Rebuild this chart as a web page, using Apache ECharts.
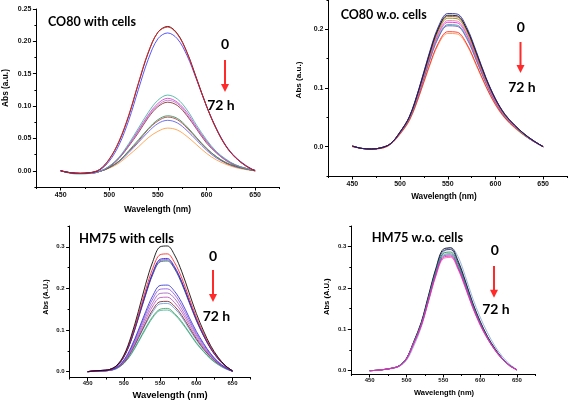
<!DOCTYPE html>
<html><head><meta charset="utf-8">
<script src="https://cdn.jsdelivr.net/npm/echarts@6/dist/echarts.min.js"></script>
<style>html,body{margin:0;padding:0;background:#fff}#c{width:568px;height:400px}</style>
</head><body><div id="c"></div>
<script>
// Wavelength grid (nm)
const wavelength = [450,460,470,480,490,500,510,520,530,540,550,560,570,580,590,600,610,620,630,640,650];
const xMajorTicks = [450,500,550,600,650];
const xMinorTicks = [425,475,525,575,625,675];

// Panel A: CO80 with cells
const co80Cells_black  = [0.000,-0.003,-0.004,-0.003,0.002,0.018,0.045,0.085,0.135,0.182,0.214,0.223,0.212,0.183,0.142,0.100,0.065,0.038,0.020,0.008,0.000];
const co80Cells_red    = [0.000,-0.003,-0.004,-0.003,0.002,0.018,0.046,0.086,0.136,0.183,0.214,0.222,0.211,0.182,0.141,0.100,0.065,0.038,0.020,0.008,0.000];
const co80Cells_blue   = [0.000,-0.003,-0.004,-0.003,0.001,0.015,0.040,0.078,0.126,0.172,0.204,0.213,0.204,0.178,0.140,0.100,0.066,0.039,0.021,0.009,0.000];
const co80Cells_teal   = [0.000,-0.004,-0.005,-0.004,-0.001,0.007,0.021,0.042,0.066,0.090,0.109,0.117,0.111,0.094,0.070,0.048,0.030,0.018,0.009,0.004,0.001];
const co80Cells_mag    = [0.000,-0.003,-0.004,-0.004,-0.001,0.007,0.020,0.040,0.063,0.086,0.104,0.112,0.106,0.090,0.067,0.046,0.029,0.017,0.009,0.004,0.001];
const co80Cells_pink   = [0.000,-0.003,-0.004,-0.004,-0.001,0.007,0.020,0.039,0.061,0.084,0.101,0.109,0.104,0.087,0.065,0.045,0.028,0.016,0.009,0.004,0.001];
const co80Cells_brown  = [0.000,-0.003,-0.004,-0.004,-0.001,0.006,0.019,0.038,0.059,0.082,0.099,0.106,0.101,0.085,0.064,0.043,0.028,0.016,0.008,0.004,0.001];
const co80Cells_green  = [0.000,-0.003,-0.004,-0.003,-0.001,0.005,0.015,0.031,0.048,0.065,0.079,0.085,0.081,0.068,0.051,0.035,0.022,0.013,0.007,0.003,0.000];
const co80Cells_wine   = [0.000,-0.003,-0.004,-0.003,-0.001,0.005,0.015,0.030,0.046,0.064,0.077,0.083,0.079,0.066,0.050,0.034,0.022,0.012,0.007,0.003,0.000];
const co80Cells_blue2  = [0.000,-0.003,-0.004,-0.003,-0.001,0.005,0.014,0.028,0.044,0.060,0.073,0.078,0.074,0.062,0.047,0.032,0.020,0.012,0.006,0.003,0.000];
const co80Cells_orange = [0.000,-0.003,-0.004,-0.003,-0.001,0.004,0.012,0.024,0.037,0.051,0.061,0.066,0.063,0.053,0.040,0.027,0.017,0.010,0.005,0.002,0.000];

// Panel B: CO80 w.o. cells
const co80No_navy   = [0.001,-0.003,-0.004,-0.002,0.005,0.025,0.052,0.100,0.156,0.204,0.227,0.226,0.203,0.162,0.118,0.082,0.055,0.037,0.022,0.010,0.000];
const co80No_black  = [0.001,-0.003,-0.004,-0.002,0.005,0.025,0.052,0.099,0.154,0.201,0.224,0.223,0.200,0.160,0.117,0.081,0.055,0.037,0.022,0.010,0.000];
const co80No_brown  = [0.001,-0.003,-0.004,-0.002,0.005,0.025,0.051,0.098,0.152,0.200,0.222,0.221,0.199,0.158,0.116,0.081,0.054,0.036,0.022,0.010,0.000];
const co80No_olive  = [0.001,-0.003,-0.004,-0.002,0.005,0.024,0.050,0.097,0.150,0.197,0.219,0.218,0.196,0.156,0.114,0.080,0.053,0.036,0.021,0.010,0.000];
const co80No_pink   = [0.001,-0.003,-0.004,-0.002,0.005,0.024,0.050,0.095,0.148,0.193,0.215,0.214,0.192,0.153,0.112,0.078,0.052,0.035,0.021,0.010,0.000];
const co80No_mag    = [0.001,-0.003,-0.004,-0.002,0.005,0.023,0.049,0.094,0.146,0.191,0.212,0.211,0.190,0.151,0.111,0.077,0.052,0.035,0.021,0.009,0.000];
const co80No_teal   = [0.001,-0.003,-0.004,-0.002,0.005,0.023,0.048,0.092,0.143,0.187,0.208,0.207,0.186,0.148,0.109,0.076,0.051,0.034,0.020,0.009,0.000];
const co80No_purple = [0.001,-0.003,-0.004,-0.002,0.005,0.023,0.048,0.091,0.142,0.185,0.206,0.205,0.184,0.147,0.108,0.075,0.050,0.034,0.020,0.009,0.000];
const co80No_red    = [0.000,-0.003,-0.004,-0.003,0.004,0.022,0.046,0.087,0.135,0.176,0.196,0.195,0.175,0.140,0.103,0.072,0.049,0.033,0.020,0.009,0.000];
const co80No_orange = [0.000,-0.003,-0.004,-0.003,0.004,0.021,0.045,0.086,0.133,0.174,0.193,0.192,0.173,0.138,0.102,0.071,0.048,0.032,0.019,0.009,0.000];

// Panel C: HM75 with cells
const hm75Cells_black  = [0.000,0.002,0.003,0.005,0.015,0.040,0.085,0.145,0.210,0.265,0.300,0.302,0.280,0.240,0.190,0.140,0.098,0.062,0.035,0.015,0.002];
const hm75Cells_red    = [0.000,0.002,0.003,0.005,0.014,0.037,0.080,0.136,0.196,0.249,0.281,0.283,0.262,0.225,0.178,0.131,0.092,0.058,0.033,0.014,0.002];
const hm75Cells_blue   = [0.000,0.002,0.003,0.005,0.014,0.036,0.076,0.131,0.188,0.239,0.270,0.272,0.252,0.216,0.171,0.126,0.088,0.056,0.032,0.014,0.002];
const hm75Cells_violet = [0.000,0.002,0.003,0.005,0.014,0.036,0.076,0.130,0.186,0.236,0.267,0.269,0.249,0.214,0.169,0.125,0.087,0.055,0.031,0.014,0.002];
const hm75Cells_dkgrn  = [0.000,0.002,0.003,0.005,0.013,0.035,0.075,0.128,0.184,0.234,0.264,0.266,0.247,0.211,0.167,0.123,0.086,0.055,0.031,0.013,0.002];
const hm75Cells_blue2  = [0.000,0.002,0.002,0.004,0.010,0.028,0.059,0.100,0.144,0.183,0.207,0.208,0.193,0.166,0.131,0.097,0.068,0.043,0.024,0.010,0.001];
const hm75Cells_lilac  = [0.000,0.002,0.002,0.003,0.010,0.026,0.056,0.096,0.138,0.175,0.198,0.199,0.185,0.158,0.125,0.092,0.065,0.041,0.023,0.010,0.001];
const hm75Cells_purple = [0.000,0.001,0.002,0.003,0.010,0.025,0.053,0.091,0.131,0.166,0.188,0.189,0.176,0.150,0.119,0.088,0.061,0.039,0.022,0.010,0.001];
const hm75Cells_mag    = [0.000,0.001,0.002,0.003,0.009,0.024,0.050,0.086,0.124,0.158,0.178,0.179,0.166,0.143,0.113,0.083,0.058,0.037,0.021,0.009,0.001];
const hm75Cells_wine   = [0.000,0.001,0.002,0.003,0.009,0.022,0.048,0.082,0.117,0.149,0.168,0.169,0.157,0.135,0.107,0.079,0.055,0.035,0.020,0.009,0.001];
const hm75Cells_sky    = [0.000,0.001,0.002,0.003,0.008,0.022,0.046,0.079,0.114,0.144,0.163,0.164,0.152,0.131,0.103,0.076,0.053,0.034,0.019,0.008,0.001];
const hm75Cells_green  = [0.000,0.001,0.002,0.003,0.008,0.020,0.043,0.073,0.105,0.133,0.150,0.152,0.140,0.120,0.095,0.070,0.049,0.031,0.018,0.008,0.001];
const hm75Cells_teal   = [0.000,0.001,0.001,0.003,0.007,0.020,0.041,0.071,0.102,0.130,0.147,0.148,0.137,0.117,0.093,0.068,0.048,0.030,0.017,0.007,0.001];

// Panel D: HM75 w.o. cells
const hm75No_steel  = [0.000,0.001,0.003,0.005,0.010,0.025,0.060,0.105,0.170,0.238,0.286,0.298,0.276,0.228,0.175,0.130,0.092,0.060,0.035,0.016,0.003];
const hm75No_black  = [0.000,0.001,0.003,0.006,0.012,0.030,0.071,0.117,0.183,0.248,0.294,0.297,0.266,0.217,0.164,0.120,0.083,0.054,0.030,0.013,0.002];
const hm75No_navy   = [0.000,0.001,0.003,0.006,0.012,0.030,0.070,0.115,0.180,0.245,0.290,0.293,0.262,0.214,0.162,0.118,0.082,0.053,0.030,0.013,0.002];
const hm75No_green  = [0.000,0.001,0.003,0.006,0.012,0.029,0.069,0.113,0.176,0.240,0.284,0.287,0.257,0.210,0.159,0.116,0.080,0.052,0.029,0.013,0.002];
const hm75No_teal   = [0.000,0.001,0.003,0.006,0.012,0.029,0.068,0.111,0.174,0.237,0.280,0.283,0.253,0.207,0.156,0.114,0.079,0.051,0.029,0.013,0.002];
const hm75No_purple = [0.000,0.001,0.003,0.006,0.011,0.029,0.067,0.110,0.172,0.234,0.277,0.280,0.250,0.205,0.155,0.113,0.078,0.051,0.029,0.012,0.002];
const hm75No_mag    = [0.000,0.001,0.003,0.006,0.011,0.028,0.066,0.109,0.170,0.232,0.274,0.277,0.248,0.202,0.153,0.112,0.078,0.050,0.028,0.012,0.002];
const hm75No_pink   = [0.000,0.001,0.003,0.006,0.011,0.028,0.066,0.108,0.168,0.229,0.271,0.274,0.245,0.200,0.152,0.110,0.077,0.050,0.028,0.012,0.002];

const panels = [
  { grid:{left:36.4, top:9, width:243, height:178}, yMin:-0.025, yMax:0.25,
    yMajor:[0,0.05,0.10,0.15,0.20,0.25], yMinor:[-0.025,0.025,0.075,0.125,0.175,0.225], dec:2, fs:7, lm:5,
    curves:[[co80Cells_orange,'#ff9a40'],[co80Cells_blue2,'#5a5ae6'],[co80Cells_wine,'#b03a3a'],[co80Cells_green,'#2f8f5a'],
            [co80Cells_brown,'#8b2a2a'],[co80Cells_pink,'#b878c8'],[co80Cells_mag,'#d040d0'],[co80Cells_teal,'#40b0a0'],
            [co80Cells_blue,'#3a3aff'],[co80Cells_black,'#000000'],[co80Cells_red,'#ff2020']] },
  { grid:{left:328.5, top:0, width:238.5, height:176}, yMin:-0.05, yMax:0.25,
    yMajor:[0,0.1,0.2], yMinor:[-0.05,0.05,0.15,0.25], dec:1, fs:7, lm:5,
    curves:[[co80No_orange,'#ff9040'],[co80No_red,'#ff2020'],[co80No_purple,'#8040c0'],[co80No_teal,'#20a0a0'],
            [co80No_mag,'#e020e0'],[co80No_pink,'#ff69b4'],[co80No_olive,'#808000'],[co80No_brown,'#a0522d'],
            [co80No_black,'#000000'],[co80No_navy,'#20209a']] },
  { grid:{left:69.6, top:226, width:181, height:151.5}, yMin:-0.014, yMax:0.35,
    yMajor:[0,0.1,0.2,0.3], yMinor:[0.05,0.15,0.25,0.35], dec:1, fs:6, lm:3,
    curves:[[hm75Cells_teal,'#50b0a0'],[hm75Cells_green,'#40a060'],[hm75Cells_sky,'#60a0e0'],[hm75Cells_wine,'#802020'],
            [hm75Cells_mag,'#c050c0'],[hm75Cells_purple,'#a060c0'],[hm75Cells_lilac,'#9050e0'],[hm75Cells_blue2,'#3030d0'],
            [hm75Cells_dkgrn,'#006040'],[hm75Cells_violet,'#8a2be2'],[hm75Cells_blue,'#2020c0'],[hm75Cells_red,'#ff2020'],[hm75Cells_black,'#000000']] },
  { grid:{left:351.3, top:226, width:184, height:148}, yMin:-0.008, yMax:0.35,
    yMajor:[0,0.1,0.2,0.3], yMinor:[0.05,0.15,0.25,0.35], dec:1, fs:6, lm:3,
    curves:[[hm75No_steel,'#88a8d8'],[hm75No_black,'#000000'],[hm75No_navy,'#202080'],[hm75No_green,'#208040'],
            [hm75No_teal,'#40a0a0'],[hm75No_purple,'#8040c0'],[hm75No_pink,'#ff60a0'],[hm75No_mag,'#e020c0']] }
];

const FONT = '"Liberation Sans", Arial, sans-serif';
const TFONT = 'Lato, "Open Sans", sans-serif';
const grids=[], xAxes=[], yAxes=[], series=[];
panels.forEach((p,g)=>{
  grids.push(p.grid);
  xAxes.push({type:'value', gridIndex:g, min:425, max:675, position:'bottom',
    axisLine:{show:true,onZero:false,lineStyle:{color:'#000',width:1}},
    axisTick:{show:true,length:3.5,customValues:xMajorTicks,lineStyle:{color:'#000'}},
    axisLabel:{customValues:xMajorTicks,fontSize:p.fs,fontWeight:'bold',color:'#111',fontFamily:FONT,margin:p.lm},
    splitLine:{show:false}});
  xAxes.push({type:'value', gridIndex:g, min:425, max:675, position:'bottom',
    axisLine:{show:false,onZero:false}, axisTick:{show:true,length:2,customValues:xMinorTicks,lineStyle:{color:'#000'}},
    axisLabel:{show:false}, splitLine:{show:false}});
  yAxes.push({type:'value', gridIndex:g, min:p.yMin, max:p.yMax, position:'left',
    axisLine:{show:true,onZero:false,lineStyle:{color:'#000',width:1}},
    axisTick:{show:true,length:3.5,customValues:p.yMajor,lineStyle:{color:'#000'}},
    axisLabel:{customValues:p.yMajor,fontSize:p.fs,fontWeight:'bold',color:'#111',fontFamily:FONT,margin:5,
      formatter:(v)=>Number(v).toFixed(p.dec)},
    splitLine:{show:false}});
  yAxes.push({type:'value', gridIndex:g, min:p.yMin, max:p.yMax, position:'left',
    axisLine:{show:false,onZero:false}, axisTick:{show:true,length:2,customValues:p.yMinor,lineStyle:{color:'#000'}},
    axisLabel:{show:false}, splitLine:{show:false}});
  p.curves.forEach(([arr,col])=>{
    series.push({type:'line', xAxisIndex:2*g, yAxisIndex:2*g, data:wavelength.map((w,i)=>[w,arr[i]]),
      smooth:0.35, showSymbol:false, silent:true, lineStyle:{width:1,color:col,opacity:0.85}, itemStyle:{color:col}});
  });
});

function txt(x,y,s,size,weight,opts){
  return Object.assign({type:'text', x:x, y:y, silent:true,
    style:{text:s, fontSize:size, fontWeight:weight, fontFamily:FONT, fill:'#000', textAlign:'center', textVerticalAlign:'middle'}}, opts||{});
}
function title(x,y,s,size){
  return {type:'text', x:x, y:y, silent:true, style:{text:s, fontSize:size, fontWeight:'bold', fontFamily:TFONT, fill:'#000', textAlign:'left', textVerticalAlign:'middle'}};
}
function vt(x,y,s,size){
  return {type:'text', x:x, y:y, rotation:Math.PI/2, silent:true,
    style:{text:s, fontSize:size, fontWeight:'bold', fontFamily:FONT, fill:'#000', textAlign:'center', textVerticalAlign:'middle'}};
}
function arrow(x,y1,y2){
  return [
    {type:'line', silent:true, shape:{x1:x,y1:y1,x2:x,y2:y2-5}, style:{stroke:'#ff2a2a',lineWidth:2}},
    {type:'polygon', silent:true, shape:{points:[[x-4,y2-8],[x+4,y2-8],[x,y2]]}, style:{fill:'#ff2a2a'}}
  ];
}
function big(x,y,s){
  return {type:'text', x:x, y:y, silent:true, style:{text:s, fontSize:14, fontWeight:'bold', fontFamily:TFONT, fill:'#000', textAlign:'center', textVerticalAlign:'middle'}};
}

const graphics = [
  title(48,22,'CO80 with cells',12.5),
  title(340.7,15,'CO80 w.o. cells',12.5),
  title(79,239,'HM75 with cells',13),
  title(371.7,238,'HM75 w.o. cells',12.8),
  big(225,44,'0'), big(221,105,'72 h'),
  big(520.7,27,'0'), big(522,87,'72 h'),
  big(213,256,'0'), big(216.5,316.7,'72 h'),
  big(494.7,250.7,'0'), big(496,309,'72 h'),
  ...arrow(225,60,92), ...arrow(520.5,42,73), ...arrow(213,270,302), ...arrow(494,266,297.7),
  txt(157.5,210,'Wavelength (nm)',8.4,'bold'),
  txt(444,197,'Wavelength (nm)',8.2,'bold'),
  txt(170,395,'Wavelength (nm)',9.4,'bold'),
  txt(444,393,'Wavelength (nm)',7.5,'bold'),
  vt(6,88,'Abs (a.u.)',8.3),
  vt(299,80,'Abs (a.u.)',8.1),
  vt(46,297,'Abs (A.U.)',7.3),
  vt(326.7,296.7,'Abs (A.U.)',7.6)
];

const chart = echarts.init(document.getElementById('c'), null, {renderer:'canvas'});
chart.setOption({animation:false, backgroundColor:'#fff', grid:grids, xAxis:xAxes, yAxis:yAxes, series:series, graphic:graphics});
</script></body></html>
